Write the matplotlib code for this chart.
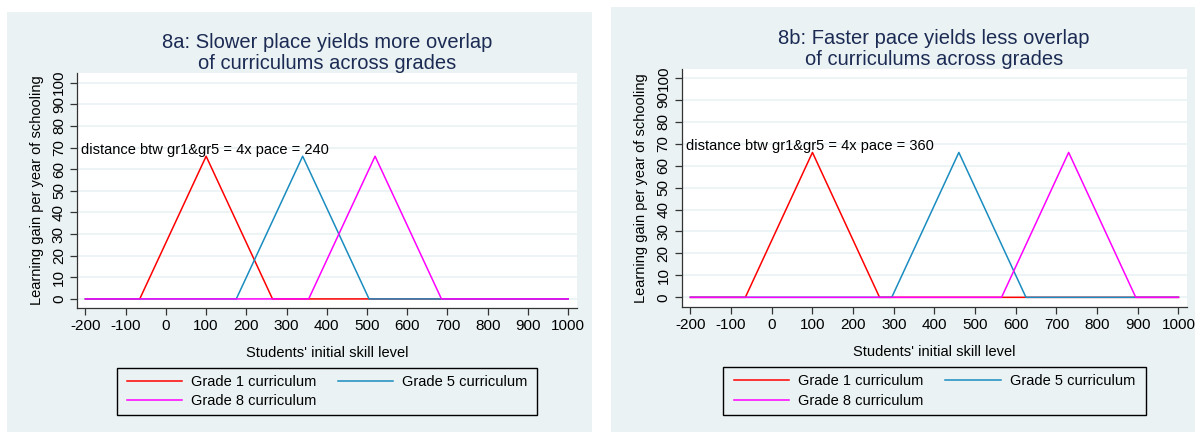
import numpy as np
import matplotlib.pyplot as plt

plt.rcParams['font.family'] = ['Liberation Sans', 'DejaVu Sans']
plt.rcParams['axes.unicode_minus'] = False

# triangle vertices (x = skill level, y = learning gain)
x_g1 = [-200, -65, 100, 265, 1000]
y_g1 = [0, 0, 66, 0, 0]

# 8a: slower pace (240 between grade 1 and grade 5)
x_g5_a = [-200, 175, 340, 505, 1000]
x_g8_a = [-200, 355, 520, 685, 1000]
# 8b: faster pace (360 between grade 1 and grade 5)
x_g5_b = [-200, 295, 460, 625, 1000]
x_g8_b = [-200, 565, 730, 895, 1000]
y_tri = [0, 0, 66, 0, 0]

titles = ["8a: Slower place yields more overlap\nof curriculums across grades",
          "8b: Faster pace yields less overlap\nof curriculums across grades"]
notes = ["distance btw gr1&gr5 = 4x pace = 240",
         "distance btw gr1&gr5 = 4x pace = 360"]
labels = ["Grade 1 curriculum", "Grade 5 curriculum", "Grade 8 curriculum"]

xticks = np.arange(-200, 1001, 100)
yticks = np.arange(0, 101, 10)

bg = '#EAF2F3'
red = '#FF0000'
blue = '#1A8CC0'
mag = '#FF00FF'
navy = '#1C2B54'

W, H = 1195, 432
fig = plt.figure(figsize=(W / 100, H / 100), dpi=100)

# pixel boxes (left, top, right, bottom)
panels = [(7, 12, 592, 432), (611, 7, 1195, 432)]
plots = [(77, 73, 577, 308), (681.5, 69, 1187, 307)]
legends = [(117, 368, 537, 415), (723, 367, 1146, 415)]
limits = [((-221, 1022), (-4.2, 104.5)), ((-222, 1021), (-4.4, 104))]
g5s = [x_g5_a, x_g5_b]
g8s = [x_g8_a, x_g8_b]


def box(p):
    l, t, r, b = p
    return [l / W, 1 - b / H, (r - l) / W, (b - t) / H]


for i in range(2):
    pax = fig.add_axes(box(panels[i]), zorder=-5)
    pax.set_facecolor(bg)
    pax.set_xticks([])
    pax.set_yticks([])
    for s in pax.spines.values():
        s.set_visible(False)

    ax = fig.add_axes(box(plots[i]))
    ax.set_facecolor('white')
    h1, = ax.plot(x_g1, y_g1, color=red, lw=1.1)
    h5, = ax.plot(g5s[i], y_tri, color=blue, lw=1.1)
    h8, = ax.plot(g8s[i], y_tri, color=mag, lw=1.1)
    ax.set_xlim(*limits[i][0])
    ax.set_ylim(*limits[i][1])
    ax.set_xticks(xticks)
    ax.set_yticks(yticks)
    ax.set_yticklabels([str(v) for v in yticks], rotation=90, va='center')
    ax.grid(axis='y', color=bg, lw=1.2)
    ax.set_axisbelow(True)
    for s in ['top', 'right']:
        ax.spines[s].set_visible(False)
    for s in ['left', 'bottom']:
        ax.spines[s].set_color('#333333')
        ax.spines[s].set_linewidth(0.9)
    ax.tick_params(labelsize=11, length=5, color='#333333', width=0.9, pad=3)
    ax.set_xlabel("Students' initial skill level", fontsize=10.5, labelpad=9)
    ax.set_ylabel("Learning gain per year of schooling", fontsize=10.5, labelpad=6)
    ax.set_title(titles[i], fontsize=14.5, color=navy, linespacing=1.15, pad=3)
    ax.text(-211, 69, notes[i], fontsize=10.5, va='center', ha='left')

    lax = fig.add_axes(box(legends[i]))
    lax.set_xlim(0, 1)
    lax.set_ylim(0, 1)
    lax.axis('off')
    lax.add_patch(plt.Rectangle((0, 0), 1, 1, transform=lax.transAxes,
                                fill=False, edgecolor='black', lw=1.0, clip_on=False))
    lax.legend([h1, h8, h5], [labels[0], labels[2], labels[1]], ncol=2,
               loc='center', fontsize=10.5, frameon=False,
               handlelength=3.8, handletextpad=0.6, borderaxespad=0,
               borderpad=0, labelspacing=0.38, columnspacing=1.5)

fig.savefig('out.png', dpi=100, facecolor='white')
